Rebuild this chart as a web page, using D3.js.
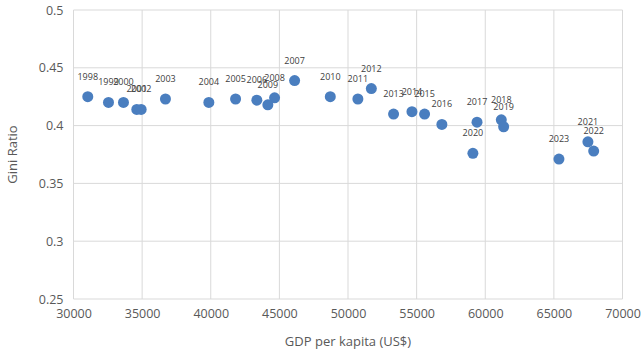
<!DOCTYPE html>
<html>
<head>
<meta charset="utf-8">
<script src="https://cdn.jsdelivr.net/npm/d3@7"></script>
<style>
  body { margin: 0; background: #fff; }
  svg { font-family: "Open Sans", sans-serif; }
</style>
</head>
<body>
<div id="chart"></div>
<script>
// years, GDP per capita (US$) and Gini ratio
var years = [1998, 1999, 2000, 2001, 2002, 2003, 2004, 2005, 2006, 2007,
             2008, 2009, 2010, 2011, 2012, 2013, 2014, 2015, 2016, 2017,
             2018, 2019, 2020, 2021, 2022, 2023];
var gdp = [31040, 32550, 33640, 34610, 34930, 36700, 39860, 41810, 43360, 46110,
           44650, 44160, 48710, 50720, 51700, 53320, 54660, 55580, 56840, 59400,
           61170, 61340, 59100, 67480, 67900, 65370];
var gini = [0.425, 0.420, 0.420, 0.414, 0.414, 0.423, 0.420, 0.423, 0.422, 0.439,
            0.424, 0.418, 0.425, 0.423, 0.432, 0.410, 0.412, 0.410, 0.401, 0.403,
            0.405, 0.399, 0.376, 0.386, 0.378, 0.371];
var xTicks = [30000, 35000, 40000, 45000, 50000, 55000, 60000, 65000, 70000];
var yTicks = [0.25, 0.3, 0.35, 0.4, 0.45, 0.5];

var width = 642, height = 358;
var margin = {top: 10, right: 19.5, bottom: 59, left: 73.5};

var svg = d3.select('#chart')
    .append('svg')
    .attr('width', width)
    .attr('height', height);

var x = d3.scaleLinear().domain([30000, 70000]).range([margin.left, width - margin.right]);
var y = d3.scaleLinear().domain([0.25, 0.5]).range([height - margin.bottom, margin.top]);

// gridlines
svg.append('g')
    .selectAll('line.v')
    .data(xTicks)
    .enter()
    .append('line')
    .attr('x1', function (d) { return x(d); })
    .attr('x2', function (d) { return x(d); })
    .attr('y1', y(0.5))
    .attr('y2', y(0.25))
    .attr('stroke', '#d9d9d9')
    .attr('stroke-width', 1);

svg.append('g')
    .selectAll('line.h')
    .data(yTicks)
    .enter()
    .append('line')
    .attr('x1', x(30000))
    .attr('x2', x(70000))
    .attr('y1', function (d) { return y(d); })
    .attr('y2', function (d) { return y(d); })
    .attr('stroke', '#d9d9d9')
    .attr('stroke-width', 1);

// axes, ticks only as text
var xAxis = svg.append('g')
    .attr('transform', 'translate(0,' + (y(0.25) + 5) + ')')
    .call(d3.axisBottom(x).tickValues(xTicks).tickFormat(d3.format('d')).tickSize(0));

var yAxis = svg.append('g')
    .attr('transform', 'translate(' + (x(30000) - 7) + ',0)')
    .call(d3.axisLeft(y).tickValues(yTicks).tickFormat(function (d) { return String(d); }).tickSize(0));

[xAxis, yAxis].forEach(function (a) {
  a.select('.domain').remove();
  a.selectAll('text')
    .attr('fill', '#595959')
    .style('font-size', '12.5px')
    .style('font-family', '"Open Sans", sans-serif');
});
xAxis.selectAll('text').attr('dy', '0.9em');

// axis titles
svg.append('text')
    .attr('x', (x(30000) + x(70000)) / 2)
    .attr('y', 346)
    .attr('text-anchor', 'middle')
    .attr('fill', '#595959')
    .style('font-size', '13px')
    .text('GDP per kapita (US$)');

svg.append('text')
    .attr('transform', 'translate(17,' + ((y(0.25) + y(0.5)) / 2) + ') rotate(-90)')
    .attr('text-anchor', 'middle')
    .attr('fill', '#595959')
    .style('font-size', '13px')
    .text('Gini Ratio');

// points
var pts = years.map(function (yr, i) { return {year: yr, gdp: gdp[i], gini: gini[i]}; });

svg.append('g')
    .selectAll('circle')
    .data(pts)
    .enter()
    .append('circle')
    .attr('cx', function (d) { return x(d.gdp); })
    .attr('cy', function (d) { return y(d.gini); })
    .attr('r', 5.5)
    .attr('fill', '#4a7ebf');

// data labels above each point (they overlap in the original too)
svg.append('g')
    .selectAll('text')
    .data(pts)
    .enter()
    .append('text')
    .attr('x', function (d) { return x(d.gdp); })
    .attr('y', function (d) { return y(d.gini) - 17; })
    .attr('text-anchor', 'middle')
    .attr('fill', '#404040')
    .style('font-size', '9px')
    .text(function (d) { return d.year; });
</script>
</body>
</html>
